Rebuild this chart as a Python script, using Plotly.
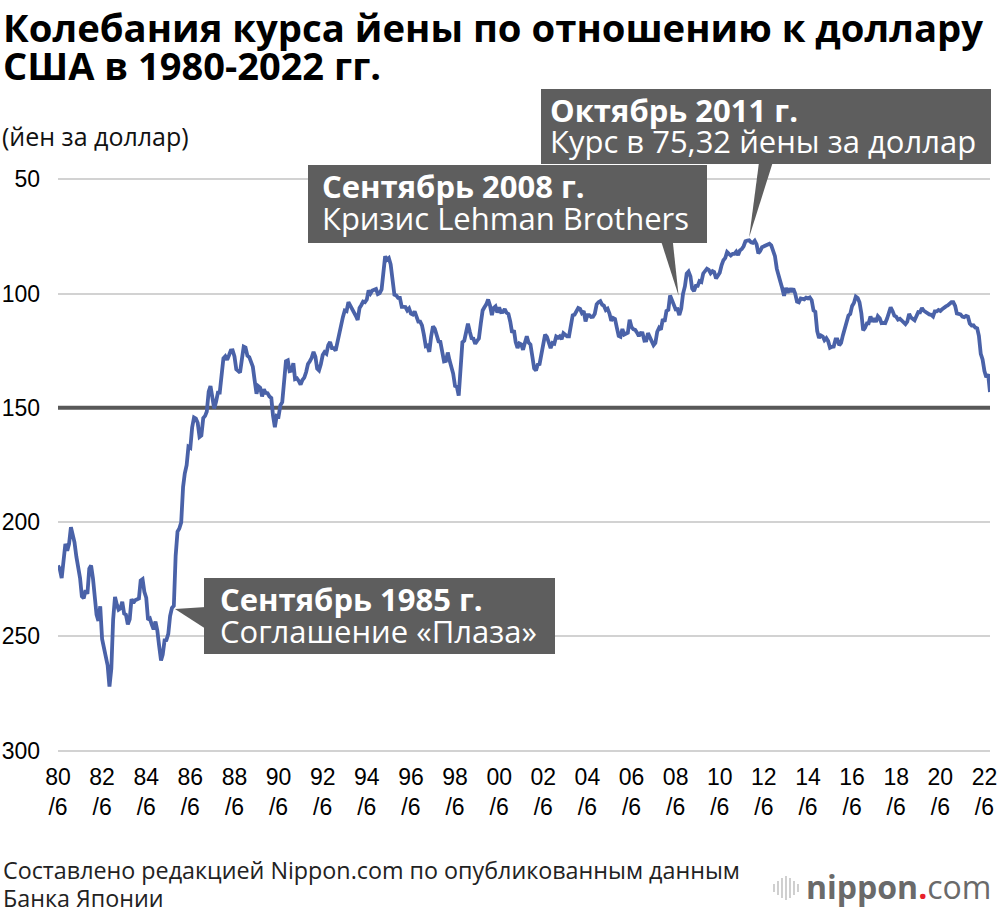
import pandas as pd
import plotly.graph_objects as go

# Monthly average USD/JPY (yen per dollar), June 1980 - September 2022
rate_1980s = [
    219.0, 220.5, 224.5, 216.0, 209.5, 212.5, 209.5,                     # 1980 Jun-Dec
    202.2, 205.8, 208.8, 215.1, 220.2, 224.4, 232.5, 233.3, 229.8, 231.4, 220.3, 219.0,  # 1981
    224.6, 235.1, 240.5, 243.2, 236.8, 251.1, 255.1, 258.7, 262.7, 271.9, 264.1, 242.6,  # 1982
    232.7, 236.1, 238.3, 237.7, 234.8, 240.0, 240.5, 244.7, 242.5, 233.7, 235.4, 234.2,  # 1983
    233.9, 233.4, 225.5, 224.9, 230.5, 233.1, 242.8, 242.2, 244.8, 246.9, 243.5, 247.3,  # 1984
    254.2, 260.5, 257.9, 251.7, 251.6, 248.9, 241.1, 237.5, 236.6, 214.7, 204.1, 202.8,  # 1985
    200.1, 184.6, 178.7, 175.1, 167.0, 167.5, 158.6, 154.2, 154.7, 156.5, 162.7, 162.1,  # 1986
    154.5, 153.5, 151.6, 142.9, 140.5, 144.5, 150.3, 147.3, 143.3, 143.3, 135.4, 128.3,  # 1987
    127.4, 129.0, 127.1, 124.9, 124.8, 127.5, 133.1, 133.8, 134.5, 128.9, 123.2, 123.6,  # 1988
    127.2, 127.8, 130.4, 132.0, 137.9, 143.8, 140.5, 141.2, 145.0, 141.9, 143.5, 143.6,  # 1989
]
rate_1990s = [
    145.0, 145.7, 153.3, 158.5, 153.5, 153.8, 148.9, 147.5, 138.4, 129.6, 129.2, 133.9,  # 1990
    133.7, 130.5, 137.4, 137.1, 138.2, 139.8, 137.8, 136.8, 134.3, 130.8, 129.6, 128.1,  # 1991
    125.5, 127.6, 132.8, 133.6, 130.9, 126.9, 125.6, 126.3, 122.6, 121.2, 123.9, 123.9,  # 1992
    125.0, 120.8, 117.0, 112.4, 110.3, 107.4, 107.7, 103.7, 105.1, 107.0, 107.8, 109.7,  # 1993
    111.5, 106.3, 105.1, 103.5, 103.8, 102.6, 98.6, 100.0, 98.7, 98.3, 98.0, 100.2,      # 1994
    99.8, 98.2, 90.8, 83.7, 85.2, 84.5, 87.2, 94.6, 100.5, 100.8, 101.9, 101.9,          # 1995
    105.8, 105.8, 105.9, 107.4, 106.5, 108.8, 109.2, 107.8, 109.7, 112.3, 112.3, 113.9,  # 1996
    118.0, 123.0, 122.7, 125.5, 118.9, 114.3, 115.4, 117.9, 120.9, 121.1, 125.4, 129.7,  # 1997
    129.5, 125.8, 129.1, 131.8, 135.0, 140.4, 140.7, 144.7, 134.5, 121.3, 120.6, 117.4,  # 1998
    113.2, 116.7, 119.5, 119.7, 122.0, 120.7, 119.7, 113.2, 107.4, 106.0, 104.7, 102.6,  # 1999
]
rate_2000s = [
    105.2, 109.4, 106.3, 105.6, 108.3, 106.1, 108.2, 108.1, 106.8, 108.4, 108.9, 112.2,  # 2000
    117.1, 116.1, 121.2, 123.8, 121.8, 122.2, 124.6, 121.5, 118.7, 121.4, 122.3, 127.3,  # 2001
    132.7, 133.6, 131.1, 130.8, 126.3, 123.3, 118.0, 119.0, 121.1, 123.9, 121.6, 121.9,  # 2002
    118.8, 119.3, 118.7, 119.9, 117.4, 118.3, 118.7, 118.7, 114.8, 109.5, 109.2, 107.8,  # 2003
    106.3, 106.7, 108.5, 107.7, 112.2, 109.4, 109.4, 110.2, 110.1, 108.8, 104.7, 103.8,  # 2004
    103.3, 104.9, 105.3, 107.2, 106.6, 108.7, 111.9, 110.7, 111.1, 114.9, 118.5, 118.9,  # 2005
    115.5, 117.9, 117.3, 117.1, 111.5, 114.6, 115.6, 115.9, 117.1, 118.6, 117.3, 117.4,  # 2006
    120.6, 120.5, 117.3, 118.8, 120.7, 122.6, 121.6, 116.7, 115.0, 115.8, 111.2, 112.3,  # 2007
    107.6, 107.1, 100.8, 102.7, 104.4, 106.9, 106.8, 109.4, 106.6, 100.1, 96.9, 91.3,    # 2008
    90.4, 92.5, 97.8, 98.9, 96.6, 96.6, 94.5, 94.9, 91.2, 90.3, 89.1, 89.6,              # 2009
]
rate_2010s = [
    91.1, 90.2, 90.6, 93.4, 91.8, 90.9, 87.6, 85.4, 84.4, 81.8, 82.6, 83.3,              # 2010
    82.6, 82.6, 81.7, 83.2, 81.1, 80.5, 79.3, 77.1, 76.8, 76.7, 77.6, 77.8,              # 2011
    76.9, 78.5, 82.4, 81.4, 79.7, 79.3, 78.9, 78.6, 78.2, 78.9, 80.8, 83.6,              # 2012
    89.2, 93.2, 94.8, 97.7, 101.0, 97.5, 99.6, 97.8, 99.2, 97.8, 100.0, 103.5,           # 2013
    103.8, 102.1, 102.3, 102.5, 101.8, 102.1, 101.7, 102.9, 107.4, 108.0, 116.4, 119.4,  # 2014
    118.3, 118.8, 120.4, 119.5, 120.8, 123.7, 123.3, 123.2, 120.1, 120.1, 122.6, 121.6,  # 2015
    118.2, 115.0, 112.9, 109.6, 108.9, 105.4, 104.1, 101.3, 101.9, 103.8, 108.6, 116.1,  # 2016
    115.0, 113.0, 113.0, 110.0, 112.3, 110.9, 112.4, 109.9, 110.8, 112.9, 112.8, 112.9,  # 2017
    110.9, 107.9, 106.0, 107.6, 109.7, 110.1, 111.4, 111.0, 111.9, 112.8, 113.4, 112.3,  # 2018
    108.9, 110.5, 111.2, 111.7, 109.9, 108.1, 108.2, 106.3, 107.5, 108.2, 108.8, 109.1,  # 2019
]
rate_2020s = [
    109.3, 110.0, 107.8, 107.8, 107.2, 107.6, 106.8, 106.0, 105.6, 105.2, 104.4, 103.8,  # 2020
    103.8, 105.4, 108.7, 109.1, 109.1, 110.1, 110.3, 109.8, 110.1, 113.1, 114.0, 113.9,  # 2021
    114.9, 115.2, 118.5, 126.4, 128.8, 133.9, 136.6, 135.3, 143.1,                       # 2022 Jan-Sep
]

rates = rate_1980s + rate_1990s + rate_2000s + rate_2010s + rate_2020s
months = pd.date_range("1980-06-01", periods=len(rates), freq="MS")

tick_years = list(range(1980, 2023, 2))
tick_vals = [f"{y}-06-01" for y in tick_years]
tick_text = [f"{y % 100:02d}<br>/6" for y in tick_years]
y_ticks = [50, 100, 150, 200, 250, 300]
reference_level = 150

title_lines = ["Колебания курса йены по отношению к доллару", "США в 1980-2022 гг."]
unit_label = "(йен за доллар)"
source_lines = ["Составлено редакцией Nippon.com по опубликованным данным", "Банка Японии"]

# callouts: anchor date / value, bold line, normal line
callout_dates = ["2011-10-01", "2008-07-20", "1985-09-20"]
callout_values = [75.32, 101.0, 238.0]
callout_heads = ["Октябрь 2011 г.", "Сентябрь 2008 г.", "Сентябрь 1985 г."]
callout_bodies = ["Курс в 75,32 йены за доллар", "Кризис Lehman Brothers", "Соглашение «Плаза»"]

BOX = "#5e5e5e"
LINE = "#4a62a8"
TXT_FONT = "Open Sans"
TICK_FONT = "Liberation Sans"
Y_RANGE = [301, 49]   # reversed axis: bottom value, top value

# plot area in pixels
L, R, T, B = 58, 10, 177, 161
W, H = 1000, 914

fig = go.Figure()
# thick reference line at 150 yen (spans the whole time range)
fig.add_trace(go.Scatter(
    x=[months[0], months[-1]], y=[reference_level, reference_level], mode="lines",
    line=dict(color="#585858", width=4), hoverinfo="skip", showlegend=False,
))
fig.add_trace(go.Scatter(
    x=months, y=rates, mode="lines",
    line=dict(color=LINE, width=3.8),
    hoverinfo="skip", showlegend=False,
))

# callout geometry, pixels relative to the anchor point (y positive = up)
box_specs = [
    dict(rect=(-208, 242, 73, 148), tx=-201, l1=127, l2=96,
         tri="M0,0 L10,76 L24,76 Z"),
    dict(rect=(-371, 28, 53, 131), tx=-359, l1=110, l2=78,
         tri="M0,0 L-18,56 L-6,56 Z"),
    dict(rect=(29, 380, -45, 31), tx=43, l1=10, l2=-22,
         tri="M0,0 L31,2 L31,-20 Z"),
]
for d, v, head, body, s in zip(callout_dates, callout_values, callout_heads,
                               callout_bodies, box_specs):
    x0, x1, y0, y1 = s["rect"]
    # pointer wedge: x follows the date axis, y uses the y-axis domain so it is not clipped
    dom = (Y_RANGE[0] - v) / (Y_RANGE[0] - Y_RANGE[1])
    fig.add_shape(type="path", xref="x", yref="y domain", xsizemode="pixel", ysizemode="pixel",
                  xanchor=d, yanchor=dom, path=s["tri"],
                  fillcolor=BOX, line=dict(width=0), layer="above")
    # box background
    fig.add_annotation(x=d, y=v, xref="x", yref="y", showarrow=False,
                       xanchor="left", yanchor="bottom", xshift=x0, yshift=y0,
                       width=x1 - x0, height=y1 - y0, borderpad=0, borderwidth=0,
                       bgcolor=BOX, text=" ", font=dict(size=10))
    for txt, dy in ((f"<b>{head}</b>", s["l1"]), (body, s["l2"])):
        fig.add_annotation(x=d, y=v, xref="x", yref="y", showarrow=False,
                           xanchor="left", yanchor="middle", xshift=s["tx"], yshift=dy,
                           text=txt, font=dict(family=TXT_FONT, size=31, color="white"))


def page_text(text, x_px, y_px, size, color="#000", anchor="left"):
    """Text placed at a page pixel position (y = vertical centre)."""
    fig.add_annotation(xref="paper", yref="paper", x=0, y=1, showarrow=False,
                       xanchor=anchor, yanchor="middle",
                       xshift=x_px - L, yshift=T - y_px, text=text,
                       font=dict(family=TXT_FONT, size=size, color=color))


page_text(f"<b>{title_lines[0]}</b>", 1, 27, 38.3)
page_text(f"<b>{title_lines[1]}</b>", 1, 65, 38)
page_text(unit_label, 0, 136, 25, "#111")
page_text(source_lines[0], 1, 870, 23.3, "#222")
page_text(source_lines[1], 1, 898, 23.3, "#222")
page_text("<b>nippon</b><span style='color:#e8202a'><b>.</b></span>com",
          993, 886, 32, "#6a6a6a", anchor="right")

# logo mark: small vertical bars
bar_offsets = [-216, -212, -208, -204, -200, -196, -192]
bar_heights = [8, 14, 20, 24, 20, 14, 8]
for bx, bh in zip(bar_offsets, bar_heights):
    fig.add_shape(type="line", xref="paper", yref="paper", xsizemode="pixel", ysizemode="pixel",
                  xanchor=1, yanchor=1, x0=bx, x1=bx,
                  y0=T - 888 - bh / 2, y1=T - 888 + bh / 2,
                  line=dict(color="#c4c4c4", width=1.6))

fig.update_layout(
    width=W, height=H,
    margin=dict(l=L, r=R, t=T, b=B),
    paper_bgcolor="white", plot_bgcolor="white",
    xaxis=dict(type="date", range=["1980-06-01", "2022-09-01"], automargin=False,
               tickmode="array", tickvals=tick_vals, ticktext=tick_text,
               showgrid=False, zeroline=False, showline=False, ticks="",
               ticklabelstandoff=8,
               tickfont=dict(family=TICK_FONT, size=23, color="#000")),
    yaxis=dict(range=Y_RANGE, tickmode="array", tickvals=y_ticks, automargin=False,
               showgrid=True, gridcolor="#d2d2d2", gridwidth=2,
               zeroline=False, showline=False, ticks="", ticklabelstandoff=17,
               tickfont=dict(family=TICK_FONT, size=23, color="#000")),
)

fig.write_html("out.html", config={"displayModeBar": False},
               post_script="document.body.style.margin='0';document.body.style.overflow='hidden';")
